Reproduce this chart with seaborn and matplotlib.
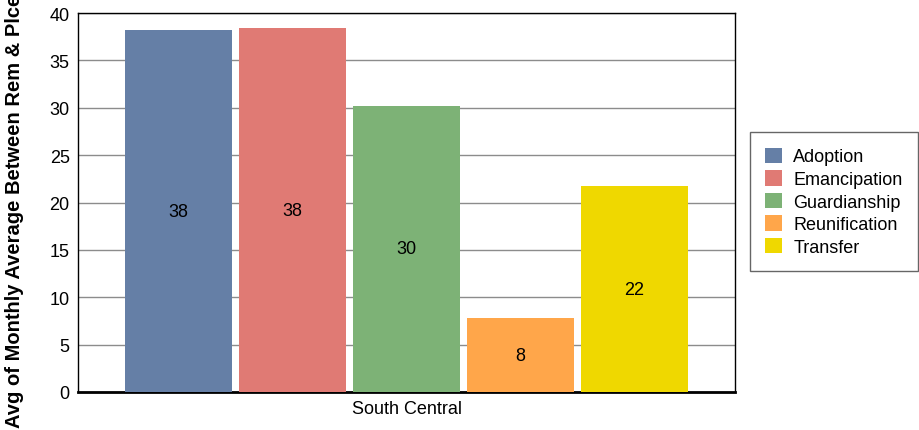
import pandas as pd
import matplotlib.pyplot as plt
import seaborn as sns

region = ['South Central']
placement_types = ['Adoption', 'Emancipation', 'Guardianship', 'Reunification', 'Transfer']
avg_months = [38.2, 38.4, 30.2, 7.8, 21.7]
bar_colors = ['#657fa6', '#e07a74', '#7db276', '#ffa64a', '#efd800']

df = pd.DataFrame({'Region': region * len(placement_types),
                   'Type': placement_types,
                   'Months': avg_months})

sns.set_style('white')
plt.rcParams['font.family'] = ['Liberation Sans', 'DejaVu Sans']
plt.rcParams['text.color'] = 'black'

fig = plt.figure(figsize=(9.19, 4.31), dpi=100)
ax = fig.add_axes([78 / 919, 38 / 431, 657 / 919, 379 / 431])

sns.barplot(data=df, x='Region', y='Months', hue='Type', hue_order=placement_types,
            palette=bar_colors, width=0.868, saturation=1, linewidth=0,
            ax=ax, zorder=3)

# small gap between bars
for p in ax.patches:
    w = p.get_width()
    if w == 0:
        continue
    p.set_x(p.get_x() + w * 0.03)
    p.set_width(w * 0.94)

for p, v in zip(ax.patches, avg_months):
    ax.text(p.get_x() + p.get_width() / 2, p.get_height() / 2, f'{v:.0f}',
            ha='center', va='center', fontsize=13, color='black', zorder=4)

ax.set_xlim(-0.5, 0.5)
ax.set_ylim(0, 40)
ax.set_yticks(range(0, 41, 5))
ax.yaxis.grid(True, color='#8c8c8c', linewidth=1, zorder=0)
ax.set_axisbelow(True)
ax.tick_params(axis='both', length=0, labelsize=13, pad=6, labelcolor='black')
ax.set_xlabel('')
ax.set_ylabel('')
for s in ax.spines.values():
    s.set_color('black')
    s.set_linewidth(1)
ax.spines['bottom'].set_linewidth(2)

fig.text(15 / 919, 3 / 431, 'Avg of Monthly Average Between Rem & Plcement',
         rotation=90, ha='center', va='bottom', fontsize=14.5, fontweight='bold',
         color='black')

handles, labels = ax.get_legend_handles_labels()
leg = ax.legend(handles, labels, loc='center left',
                bbox_to_anchor=(1.0228, 0.3298, 0.2557, 0.3456), mode='expand',
                frameon=True, fancybox=False, fontsize=13, handlelength=0.95,
                handleheight=0.95, borderpad=0.85, labelspacing=0.25, handletextpad=0.6,
                borderaxespad=0, labelcolor='black')
leg.get_frame().set_edgecolor('#404040')
leg.get_frame().set_linewidth(1)

fig.savefig('out.png', dpi=100)
